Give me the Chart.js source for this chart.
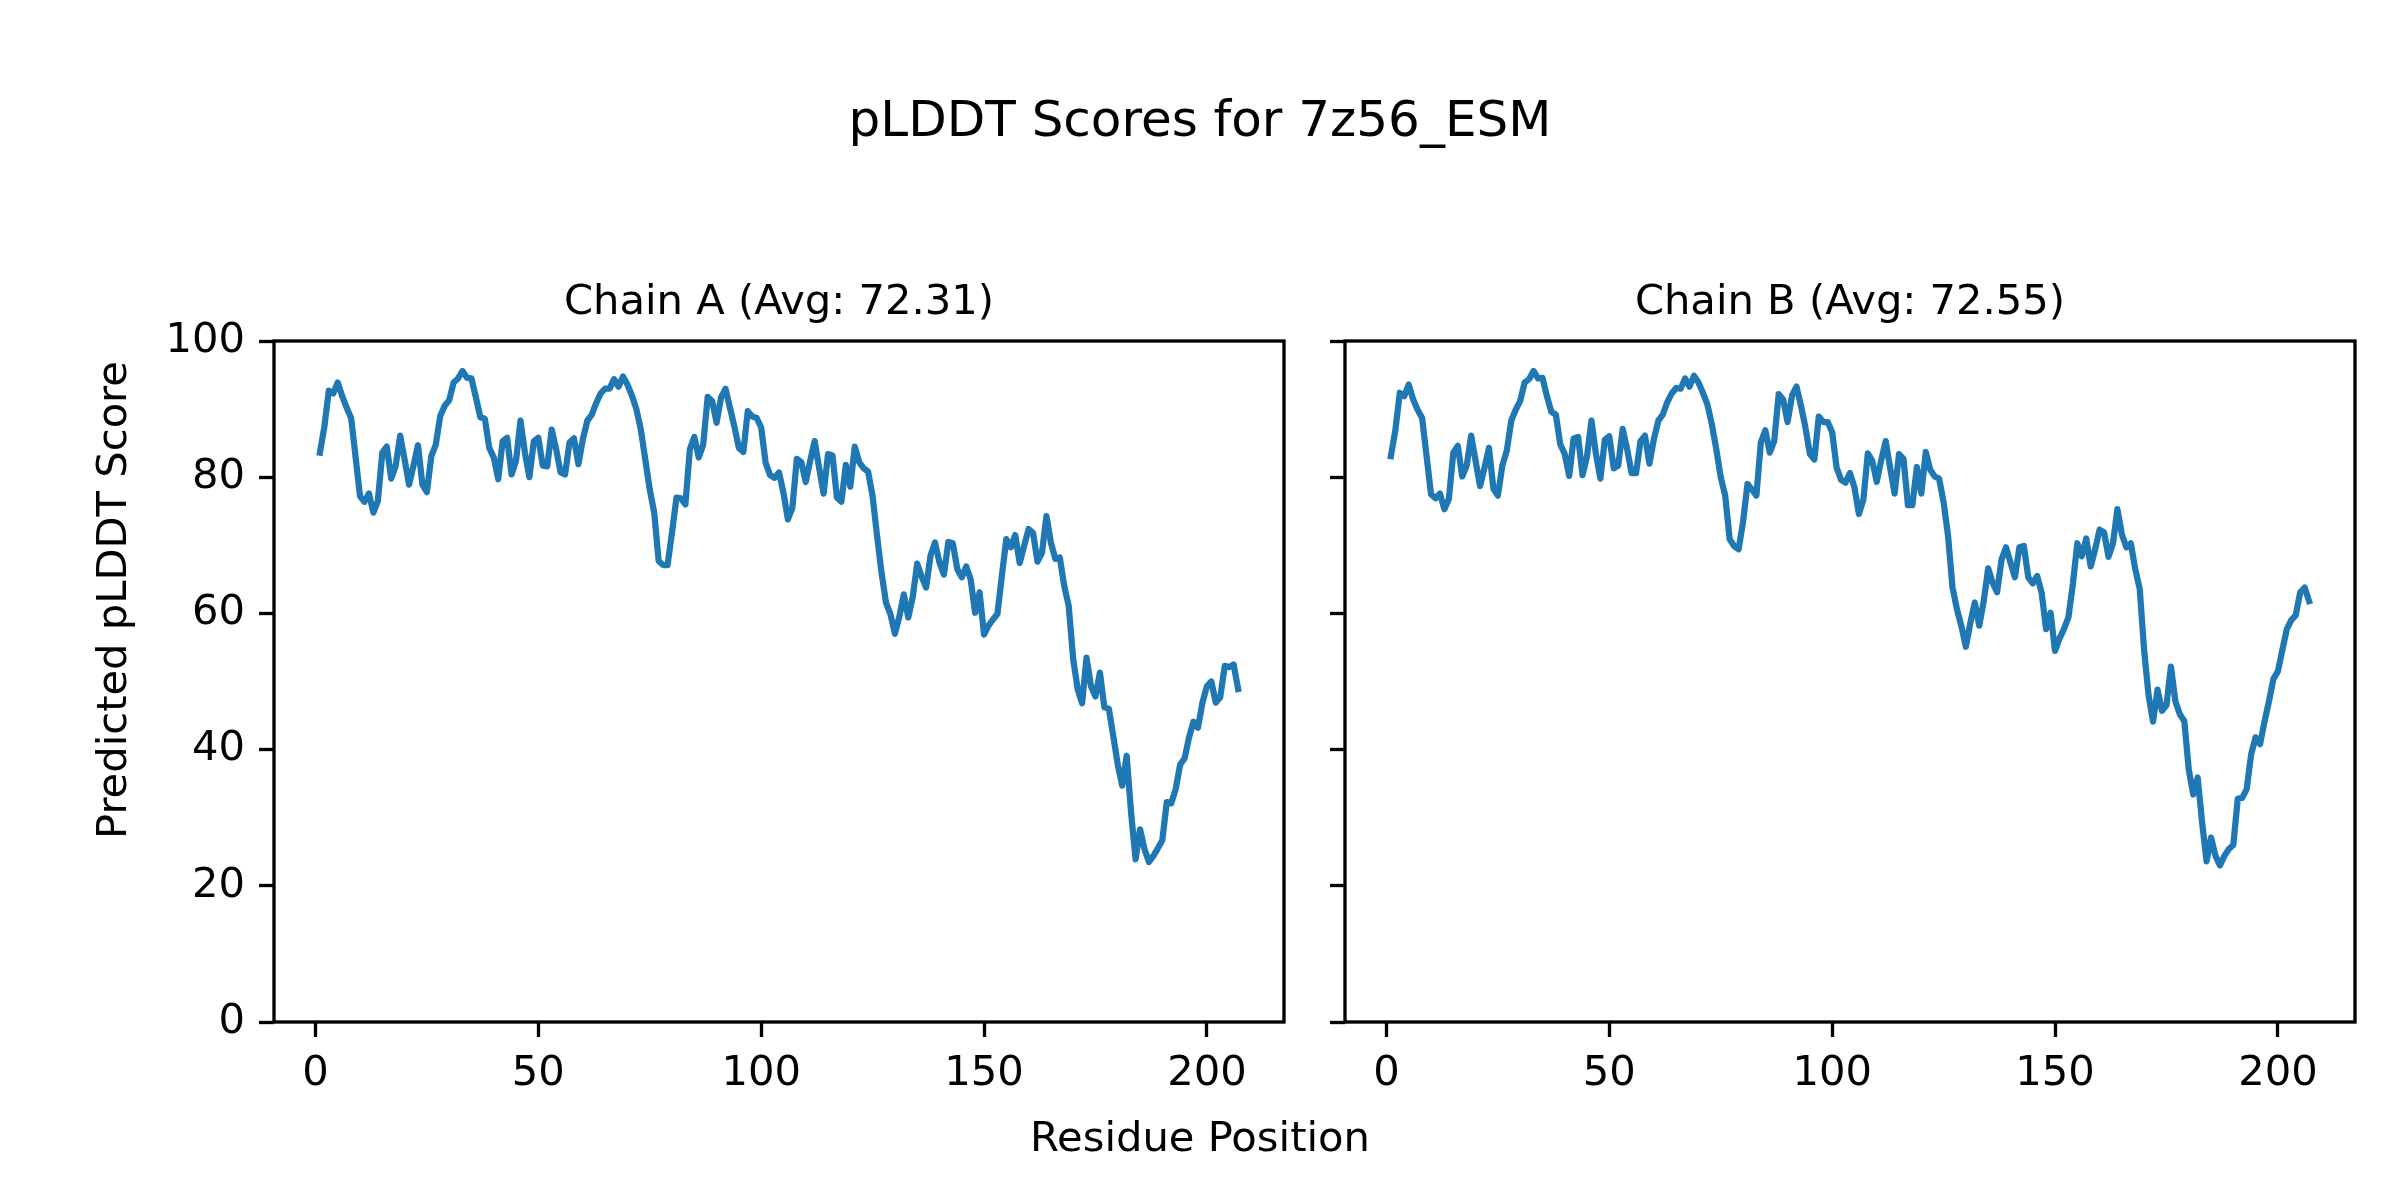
<!DOCTYPE html>
<html>
<head>
<meta charset="utf-8">
<title>pLDDT Scores for 7z56_ESM</title>
<script src="https://cdn.jsdelivr.net/npm/chart.js@4.4.1/dist/chart.umd.min.js"></script>
<style>
  body { margin: 0; background: #fff; font-family: "DejaVu Sans", sans-serif; }
  #page { position: relative; width: 2400px; height: 1200px; overflow: hidden; }
  canvas { position: absolute; top: 0; }
  .txt { position: absolute; color: #000; white-space: nowrap; text-align: center; }
</style>
</head>
<body>
<div id="page">
  <div class="txt" style="left:0; width:2400px; top:89px; font-size:50px; line-height:60px;">pLDDT Scores for 7z56_ESM</div>
  <canvas id="chainA" width="1310" height="1200" style="left:0;"></canvas>
  <canvas id="chainB" width="1090" height="1200" style="left:1310px;"></canvas>
  <div class="txt" style="left:0; width:2400px; top:1112px; font-size:41.67px; line-height:50px;">Residue Position</div>
  <div class="txt" style="left:-288px; width:800px; top:575px; font-size:41.67px; line-height:50px; transform:rotate(-90deg);">Predicted pLDDT Score</div>
</div>

<script>
"use strict"

// values, one per residue
const chainA = [
  83.6, 87.4, 92.7, 92.3, 93.9, 91.9, 90.2, 88.7, 83.0, 77.2,
  76.4, 77.6, 74.8, 76.5, 83.6, 84.5, 79.8, 81.7, 86.1, 82.6,
  78.9, 81.7, 84.7, 78.9, 77.8, 83.1, 84.8, 89.0, 90.5, 91.3,
  93.9, 94.5, 95.6, 94.6, 94.5, 91.7, 88.8, 88.6, 84.3, 82.9,
  79.7, 85.3, 85.8, 80.4, 82.4, 88.3, 83.6, 80.0, 85.3, 85.8,
  81.7, 81.6, 87.0, 84.1, 80.7, 80.4, 85.1, 85.7, 81.9, 85.6,
  88.3, 89.2, 90.9, 92.3, 93.0, 93.0, 94.4, 93.3, 94.8, 93.6,
  92.0, 90.0, 87.0, 82.6, 78.2, 74.8, 67.7, 67.1, 67.1, 71.9,
  77.0, 76.9, 76.0, 84.1, 85.9, 82.9, 84.8, 91.8, 91.2, 88.0,
  91.7, 93.0, 90.2, 87.4, 84.3, 83.7, 89.7, 88.9, 88.7, 87.3,
  82.1, 80.3, 79.9, 80.7, 77.7, 73.8, 75.5, 82.7, 82.2, 79.3,
  82.4, 85.3, 81.4, 77.6, 83.4, 83.2, 77.0, 76.4, 81.8, 78.6,
  84.5, 82.2, 81.3, 80.8, 77.2, 71.4, 66.0, 61.6, 59.9, 57.0,
  59.5, 62.8, 59.4, 62.4, 67.3, 65.4, 63.8, 68.5, 70.4, 67.5,
  65.7, 70.5, 70.3, 66.5, 65.3, 66.9, 65.0, 60.1, 63.1, 56.9,
  58.2, 59.1, 59.9, 65.5, 70.9, 69.7, 71.5, 67.4, 69.9, 72.4,
  71.8, 67.6, 68.9, 74.3, 70.4, 68.0, 68.2, 64.0, 61.1, 53.3,
  48.9, 46.8, 53.5, 49.3, 47.8, 51.3, 46.2, 46.0, 42.0, 37.8,
  34.7, 39.1, 30.7, 23.9, 28.3, 25.4, 23.5, 24.4, 25.5, 26.7,
  32.3, 32.1, 34.2, 37.8, 38.7, 41.8, 44.1, 43.2, 46.9, 49.3,
  50.0, 46.9, 47.7, 52.3, 52.1, 52.5, 48.9
];

const chainB = [
  83.1, 86.9, 92.4, 91.9, 93.6, 91.4, 89.9, 88.7, 83.1, 77.5,
  76.9, 77.6, 75.3, 76.8, 83.6, 84.6, 80.1, 81.7, 86.1, 82.4,
  78.7, 81.4, 84.3, 78.3, 77.3, 81.7, 83.9, 88.3, 89.9, 91.2,
  93.9, 94.4, 95.6, 94.5, 94.6, 91.9, 89.6, 89.2, 84.8, 83.4,
  80.2, 85.7, 85.9, 80.3, 83.1, 88.3, 83.4, 79.8, 85.5, 86.0,
  81.3, 81.7, 87.1, 84.1, 80.6, 80.6, 85.3, 86.1, 82.0, 85.6,
  88.3, 89.2, 91.0, 92.3, 93.1, 93.0, 94.5, 93.3, 94.9, 93.9,
  92.4, 90.7, 87.8, 84.1, 80.0, 77.3, 70.9, 69.9, 69.4, 73.4,
  79.0, 78.2, 77.3, 85.1, 86.9, 83.6, 85.3, 92.2, 91.4, 88.1,
  92.0, 93.3, 90.5, 87.3, 83.4, 82.6, 88.9, 88.1, 88.1, 86.6,
  81.4, 79.6, 79.2, 80.6, 78.5, 74.6, 76.7, 83.5, 82.4, 79.3,
  82.5, 85.3, 81.4, 77.6, 83.4, 82.7, 75.9, 75.9, 81.5, 77.6,
  83.7, 81.1, 80.1, 79.8, 76.3, 71.4, 63.8, 60.6, 58.1, 55.1,
  58.6, 61.6, 58.2, 61.8, 66.6, 64.5, 63.1, 67.9, 69.7, 67.5,
  65.3, 69.7, 69.9, 65.3, 64.4, 65.5, 63.0, 57.7, 60.1, 54.5,
  56.3, 57.7, 59.4, 64.3, 70.3, 68.4, 71.0, 66.9, 69.4, 72.3,
  71.9, 68.3, 70.3, 75.3, 71.6, 69.7, 70.3, 66.5, 63.6, 54.5,
  47.9, 44.1, 48.8, 45.7, 46.5, 52.2, 47.1, 45.2, 44.2, 37.1,
  33.4, 35.9, 29.3, 23.6, 27.1, 24.4, 23.0, 24.4, 25.4, 26.0,
  32.8, 32.9, 34.2, 39.3, 41.8, 40.8, 44.1, 47.1, 50.4, 51.5,
  54.6, 57.7, 59.0, 59.7, 63.1, 63.8, 61.8
];

const chainTitles = ["Chain A (Avg: 72.31)", "Chain B (Avg: 72.55)"];
const xTicks = [0, 50, 100, 150, 200];
const yTicks = [0, 20, 40, 60, 80, 100];

// residue numbers start at 1
const residues = chainA.map((_, i) => i + 1);

Chart.defaults.font.family = "DejaVu Sans";
Chart.defaults.color = "#000";

const spineWidth = 3.33;

// matplotlib style box around the plot area
const boxPlugin = {
  id: "box",
  afterDraw(chart) {
    const a = chart.chartArea;
    const ctx = chart.ctx;
    ctx.save();
    ctx.strokeStyle = "#000";
    ctx.lineWidth = spineWidth;
    ctx.strokeRect(a.left, a.top, a.right - a.left, a.bottom - a.top);
    ctx.restore();
  }
};

function makeChart(id, values, title, yAxisWidth, padRight, showYLabels) {
  const ctx = document.getElementById(id).getContext("2d");
  const points = residues.map((r, i) => ({ x: r, y: values[i] }));
  return new Chart(ctx, {
    type: "line",
    data: {
      datasets: [{
        data: points,
        borderColor: "#1f77b4",
        borderWidth: 6.25,
        pointRadius: 0,
        tension: 0,
        borderJoinStyle: "round",
        borderCapStyle: "square",
        fill: false
      }]
    },
    options: {
      responsive: false,
      animation: false,
      devicePixelRatio: 1,
      layout: { padding: { left: 0, right: padRight, top: 278, bottom: 0 } },
      plugins: {
        legend: { display: false },
        tooltip: { enabled: false },
        title: {
          display: true,
          text: title,
          fullSize: false,
          font: { size: 41.67, weight: "normal" },
          padding: { top: 0, bottom: 13 }
        }
      },
      scales: {
        x: {
          type: "linear",
          min: -9.3,
          max: 217.3,
          afterBuildTicks: (s) => { s.ticks = xTicks.map(v => ({ value: v })); },
          afterFit: (s) => { s.height = 178; },
          border: { display: false },
          grid: { drawOnChartArea: false, drawTicks: true, tickLength: 15, tickColor: "#000", tickWidth: spineWidth },
          ticks: { font: { size: 41.67 }, padding: 12, maxRotation: 0, autoSkip: false }
        },
        y: {
          min: 0,
          max: 100,
          afterBuildTicks: (s) => { s.ticks = yTicks.map(v => ({ value: v })); },
          afterFit: (s) => { s.width = yAxisWidth; },
          border: { display: false },
          grid: { drawOnChartArea: false, drawTicks: true, tickLength: 15, tickColor: "#000", tickWidth: spineWidth },
          ticks: { display: showYLabels, font: { size: 41.67 }, padding: 14 }
        }
      }
    },
    plugins: [boxPlugin]
  });
}

makeChart("chainA", chainA, chainTitles[0], 274, 26, true);
makeChart("chainB", chainB, chainTitles[1], 35, 45, false);
</script>
</body>
</html>
